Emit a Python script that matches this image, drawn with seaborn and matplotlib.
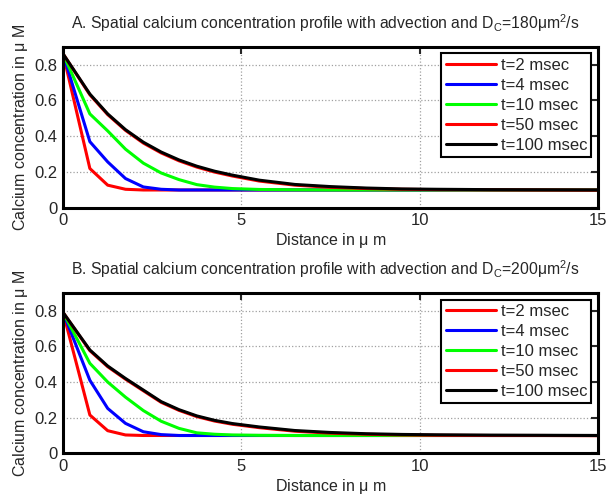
import numpy as np
import pandas as pd
import matplotlib
matplotlib.use('Agg')
import matplotlib.pyplot as plt
import seaborn as sns

# distance grid (um)
distance = [0, 0.75, 1.25, 1.75, 2.25, 2.75, 3.25, 3.75, 4.25, 4.75,
            5.5, 6.5, 7.5, 8.5, 9.5, 10.5, 12, 13.5, 15]

labels = ['t=2 msec', 't=4 msec', 't=10 msec', 't=50 msec', 't=100 msec']
colors = ['#ff0000', '#0000ff', '#00ff00', '#ff0000', '#000000']

# A. Dc = 180 um^2/s
a_t2 = [0.86, 0.22, 0.127, 0.104, 0.100, 0.100, 0.100, 0.100, 0.100, 0.100,
        0.100, 0.100, 0.100, 0.100, 0.100, 0.100, 0.100, 0.100, 0.100]
a_t4 = [0.86, 0.37, 0.257, 0.164, 0.117, 0.104, 0.100, 0.100, 0.100, 0.100,
        0.100, 0.100, 0.100, 0.100, 0.100, 0.100, 0.100, 0.100, 0.100]
a_t10 = [0.86, 0.525, 0.43, 0.328, 0.25, 0.195, 0.158, 0.13, 0.116, 0.108,
         0.103, 0.101, 0.100, 0.100, 0.100, 0.100, 0.100, 0.100, 0.100]
a_t50 = [0.86, 0.632, 0.521, 0.433, 0.362, 0.307, 0.263, 0.228, 0.200, 0.178,
         0.150, 0.127, 0.115, 0.108, 0.104, 0.102, 0.101, 0.100, 0.099]
a_t100 = [0.86, 0.636, 0.525, 0.437, 0.367, 0.312, 0.268, 0.233, 0.205, 0.183,
          0.155, 0.131, 0.119, 0.111, 0.106, 0.104, 0.102, 0.101, 0.100]

# B. Dc = 200 um^2/s
b_t2 = [0.79, 0.215, 0.127, 0.103, 0.100, 0.100, 0.100, 0.100, 0.100, 0.100,
        0.100, 0.100, 0.100, 0.100, 0.100, 0.100, 0.100, 0.100, 0.100]
b_t4 = [0.79, 0.41, 0.252, 0.168, 0.121, 0.105, 0.100, 0.100, 0.100, 0.100,
        0.100, 0.100, 0.100, 0.100, 0.100, 0.100, 0.100, 0.100, 0.100]
b_t10 = [0.79, 0.505, 0.40, 0.315, 0.24, 0.18, 0.14, 0.115, 0.107, 0.103,
         0.101, 0.100, 0.100, 0.100, 0.100, 0.100, 0.100, 0.100, 0.100]
b_t50 = [0.79, 0.576, 0.486, 0.416, 0.351, 0.286, 0.241, 0.206, 0.181, 0.163,
         0.144, 0.124, 0.113, 0.107, 0.103, 0.101, 0.100, 0.100, 0.099]
b_t100 = [0.79, 0.58, 0.49, 0.42, 0.355, 0.29, 0.245, 0.21, 0.185, 0.167,
          0.148, 0.128, 0.117, 0.110, 0.106, 0.104, 0.102, 0.101, 0.100]

titles = [r'A. Spatial calcium concentration profile with advection and D$_\mathregular{C}$=180$\mu$m$^\mathregular{2}$/s',
          r'B. Spatial calcium concentration profile with advection and D$_\mathregular{C}$=200$\mu$m$^\mathregular{2}$/s']

sns.set_style('white')
plt.rcParams['font.family'] = ['Liberation Sans', 'DejaVu Sans']
plt.rcParams['mathtext.fontset'] = 'custom'
plt.rcParams['mathtext.rm'] = 'Liberation Sans'
plt.rcParams['mathtext.it'] = 'Liberation Sans'

fig = plt.figure(figsize=(6.07, 4.95), dpi=100)
ax_a = fig.add_axes([0.104, 0.580, 0.881, 0.3255])
ax_b = fig.add_axes([0.104, 0.0842, 0.881, 0.324])

panels = [(ax_a, [a_t2, a_t4, a_t10, a_t50, a_t100]),
          (ax_b, [b_t2, b_t4, b_t10, b_t50, b_t100])]

for i, (ax, series) in enumerate(panels):
    for lab, col, vals in zip(labels, colors, series):
        sns.lineplot(x=distance, y=vals, color=col, linewidth=2.2, label=lab, ax=ax)

    ax.set_xlim(0, 15)
    ax.set_ylim(0, 0.9)
    ax.set_xticks([0, 5, 10, 15])
    ax.set_yticks([0, 0.2, 0.4, 0.6, 0.8])
    ax.set_yticklabels(['0', '0.2', '0.4', '0.6', '0.8'])
    ax.grid(True, color='#a0a0a0', linestyle=':', linewidth=0.9)
    ax.tick_params(direction='in', length=5, width=1.5, labelsize=12,
                   top=True, right=True, pad=4)
    for s in ax.spines.values():
        s.set_linewidth(2.2)
        s.set_color('black')
    ax.set_title(titles[i], fontsize=11.3, pad=13, x=0.49)
    ax.set_xlabel(r'Distance in $\mu$ m', fontsize=11.5, labelpad=2)
    ax.set_ylabel(r'Calcium concentration in $\mu$ M', fontsize=11.5, labelpad=3)

    leg = ax.legend(loc='upper right', fontsize=12, handlelength=3.0,
                    handletextpad=0.3, labelspacing=0.3, borderpad=0.25,
                    fancybox=False, framealpha=1, borderaxespad=0.4)
    leg.get_frame().set_edgecolor('black')
    leg.get_frame().set_linewidth(1.5)
    for h in leg.get_lines():
        h.set_linewidth(2.2)

fig.savefig('out.png', dpi=100)
